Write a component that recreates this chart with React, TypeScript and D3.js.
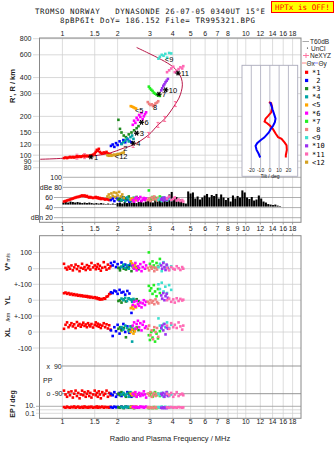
import React from 'react';
import * as d3 from 'd3';

// echo rows: [freq MHz, height km, amplitude dB, V* m/s, YL km, XL km, PP deg, EP deg]
type Echo = [number, number, number, number | null, number | null, number | null, number | null, number | null];

const trace1: Echo[] = [
  [1.02, 95, 52, 30, 44, 20, -70, 6], [1.04, 96, 53, 5, 48, 45, -95, 4], [1.06, 95, 54, -5, 40, 60, -110, 8],
  [1.08, 96, 55, 12, 45, 30, -80, 5], [1.10, 97, 56, 0, 36, 42, -100, 4], [1.12, 96, 57, 20, 41, 55, -75, 7],
  [1.14, 97, 58, -10, 33, 35, -115, 5], [1.16, 96, 59, 8, 38, 48, -90, 9], [1.18, 97, 60, 25, 31, 25, -70, 4],
  [1.20, 98, 61, -2, 35, 62, -105, 6], [1.22, 97, 61, 15, 28, 40, -85, 8], [1.24, 98, 62, -15, 32, 50, -120, 4],
  [1.26, 97, 63, 5, 26, 33, -95, 5], [1.28, 98, 64, 30, 30, 45, -70, 7], [1.30, 99, 63, 0, 24, 58, -100, 4],
  [1.32, 98, 64, 10, 27, 38, -80, 9], [1.34, 99, 62, -8, 22, 47, -110, 5], [1.36, 98, 63, 22, 26, 30, -90, 6],
  [1.38, 99, 61, 3, 19, 55, -75, 4], [1.40, 98, 60, 15, 23, 42, -105, 7], [1.42, 99, 61, -5, 17, 35, -85, 5],
  [1.44, 100, 60, 35, 21, 50, -115, 8], [1.47, 101, 59, 8, 15, 28, -95, 4], [1.50, 103, 60, 20, 19, 45, -70, 6],
  [1.52, 106, 61, -3, 12, 60, -100, 5], [1.54, 110, 59, 12, 16, 38, -85, 9], [1.56, 108, 60, 28, 8, 52, -110, 4],
  [1.58, 112, 58, 0, 12, 33, -75, 7], [1.60, 106, 59, 18, 4, 46, -95, 5], [1.62, 104, 57, -12, 8, 25, -120, 6],
  [1.65, 103, 58, 6, 5, 40, -80, 8], [1.68, 105, 57, 40, 12, 55, -100, 4], [1.71, 104, 56, 10, 9, 30, -90, 7],
  [1.74, 106, 57, -6, 22, 48, -70, 5], [1.77, 103, 56, 25, 25, 22, -110, 6], [1.80, 102, 55, 2, 38, 42, -85, 4],
  [1.83, 101, 56, 15, 42, 15, -100, 7],
];

const trace2: Echo[] = [
  [1.84, 118, 55, 35, 50, 10, -90, 6], [1.88, 121, 58, 20, 45, -25, -100, 4], [1.92, 116, 53, 42, 60, 30, -80, 8],
  [1.96, 124, 60, 10, 55, 5, -110, 5], [2.00, 120, 57, 28, 40, 45, -95, 7], [2.05, 128, 54, 5, 65, -10, -85, 5],
  [2.10, 123, 61, 38, 48, 20, -105, 8], [2.15, 131, 56, 15, 52, 50, -90, 4], [2.20, 126, 58, 25, 35, 0, -100, 6],
  [2.26, 133, 55, 8, 58, 35, -80, 7], [2.32, 129, 52, 20, 42, -5, -95, 5], [2.38, 126, 54, 30, -80, 15, -110, 8],
];

const trace3: Echo[] = [
  [2.02, 188, 56, 5, -5, 20, -90, 5], [2.06, 160, 58, -10, 0, 30, -100, 4], [2.10, 150, 54, 12, -15, 10, -80, 7],
  [2.16, 142, 60, 0, 5, 25, -95, 3], [2.22, 138, 57, -5, -8, -33, -110, 8], [2.30, 145, 62, 8, 10, 15, -85, 4],
  [2.38, 150, 55, -15, 2, 35, -100, 6], [2.46, 156, 59, 3, -3, 5, -90, 3], [2.54, 162, 61, 10, 6, 28, -105, 5],
  [2.60, 168, 58, -3, -6, 12, -95, 4],
];

const trace4: Echo[] = [
  [2.10, 122, 55, 10, 10, 30, -95, 6], [2.15, 126, 58, 25, 0, 15, -85, 4], [2.20, 130, 53, 5, 15, 40, -100, 8],
  [2.25, 135, 60, 20, -5, 25, -90, 5], [2.30, 128, 56, 0, 12, 5, -110, 7], [2.35, 138, 54, 30, 5, 35, -80, 4],
  [2.40, 142, 57, 15, -10, -60, -95, 6], [2.44, 134, 59, 8, 8, 20, -105, 5],
];

const trace5: Echo[] = [
  [2.36, 240, 56, 45, -50, 0, -90, 6], [2.40, 238, 58, 30, -40, 15, -100, 8], [2.44, 235, 54, 10, -55, -10, -85, 4],
  [2.48, 232, 57, 25, -35, 5, -95, 6], [2.52, 230, 55, 5, -45, 20, -105, 9],
];

const trace6: Echo[] = [
  [2.42, 172, 55, 20, -30, 40, -90, 6], [2.46, 185, 52, 0, -10, 60, -100, 8], [2.50, 178, 58, 35, -40, 20, -80, 4],
  [2.54, 195, 60, -10, -5, 50, -110, 7], [2.58, 188, 54, 15, -25, 70, -95, 5], [2.62, 205, 57, 5, -35, 30, -85, 4],
  [2.66, 198, 61, 28, -15, 55, -105, 9], [2.70, 212, 53, -15, -45, 10, -90, 6], [2.74, 190, 56, 10, -20, 45, -100, 7],
  [2.78, 200, 59, 40, 0, 65, -75, 4], [2.82, 208, 55, 0, -30, 25, -95, 6], [2.86, 215, 58, 20, -10, 35, -115, 8],
];

const trace7: Echo[] = [
  [2.96, 340, 74, 100, 90, -20, -90, 3], [3.00, 330, 58, 30, 60, -50, -100, 5], [3.05, 322, 56, 10, 75, 0, -85, 4],
  [3.10, 315, 61, 45, 40, -35, -110, 3], [3.15, 305, 57, 20, 95, 10, -95, 6], [3.20, 300, 60, 5, 55, -60, -80, 4],
  [3.26, 295, 55, 35, 25, -10, -100, 3], [3.32, 290, 59, 15, 70, -40, -90, 5], [3.40, 288, 62, 60, 45, 5, -105, 4],
];

const trace8: Echo[] = [
  [2.92, 258, 55, 5, -10, 20, -90, 4], [2.97, 250, 58, -10, -20, 40, -100, 6], [3.02, 245, 53, 15, 0, -20, -80, 3],
  [3.07, 248, 60, 0, -15, 10, -110, 5], [3.12, 240, 56, 10, -5, -45, -95, 4], [3.17, 244, 62, -15, -25, 30, -85, 3],
  [3.22, 252, 57, 5, 5, 0, -105, 6], [3.28, 256, 54, -5, -12, 25, -95, 4], [3.33, 262, 59, 12, -20, -30, -90, 5],
];

const trace9: Echo[] = [
  [3.34, 560, 55, 10, 100, 85, -90, 6], [3.40, 580, 58, 30, 70, 40, -100, 4], [3.48, 600, 53, -15, 110, 20, -85, 8],
  [3.56, 590, 60, 40, 55, 50, -110, 5], [3.64, 610, 56, 5, 85, 30, -95, 7], [3.72, 570, 54, 20, 45, 60, -80, 4],
  [3.82, 620, 57, -5, 95, 25, -105, 6], [3.92, 615, 55, 15, 65, 45, -95, 5],
];

const trace10: Echo[] = [
  [3.46, 318, 56, 20, 30, 25, -90, 4], [3.50, 330, 58, 0, 10, 40, -100, 3], [3.55, 345, 54, 35, 45, 10, -85, 5],
  [3.60, 355, 60, 10, 0, 50, -110, 3], [3.65, 368, 57, -8, 25, -15, -95, 4], [3.70, 378, 55, 25, 40, 30, -80, 3],
  [3.76, 390, 59, 5, 15, 20, -105, 5],
];

const trace11: Echo[] = [
  [3.72, 440, 58, 5, 0, 40, -90, 5], [3.82, 455, 62, -10, 10, 20, -100, 4], [3.92, 470, 55, 10, -10, 55, -85, 6],
  [4.02, 485, 57, 0, 5, 30, -110, 4], [4.10, 440, 60, -5, -15, 45, -95, 5], [4.20, 450, 54, 15, 12, 25, -80, 4],
  [4.30, 465, 56, 3, -5, 60, -105, 6], [4.40, 480, 53, -8, 8, 35, -95, 5], [4.50, 470, 55, 10, -2, 15, -90, 4],
  [4.56, 490, 52, 0, 3, 40, -100, 5],
];

const trace12: Echo[] = [
  [1.76, 100, 62, null, null, null, null, null], [1.79, 99, 66, null, null, null, null, null],
  [1.82, 100, 60, null, null, null, null, null], [1.85, 99, 68, null, null, null, null, null],
  [1.88, 100, 63, null, null, null, null, null], [1.91, 101, 70, null, null, null, null, null],
  [1.94, 100, 61, null, null, null, null, null], [1.97, 101, 69, null, null, null, null, null],
  [2.00, 102, 64, null, null, null, null, null], [2.04, 102, 71, null, null, null, null, null],
  [2.08, 103, 62, null, null, null, null, null], [2.12, 104, 66, null, null, null, null, null],
  [2.16, 105, 59, null, null, null, null, null],
];

const traces = [trace1, trace2, trace3, trace4, trace5, trace6, trace7, trace8, trace9, trace10, trace11, trace12];
const traceColors = ['#ff0000', '#0000ff', '#1f8b1f', '#00a4a4', '#ffa500', '#ff00ff', '#22ee22', '#f08080', '#40e0d0', '#9b30f0', '#ff69b4', '#d4a020'];
const traceSymbols = ['*', ' ', '*', '*', '<', '*', '*', ' ', '<', '*', '*', '<'];
const markFreq = [1.43, 2.2, 2.54, 2.43, 2.55, 2.70, 3.36, 3.2, 3.71, 3.66, 4.27, 1.98];
const markHeight = [97, 114, 148, 124, 224, 180, 297, 236, 555, 321, 433, 98];

// NeXYZ profile: [plasma freq MHz, real height km, error bar flag]
const profile: [number, number, number][] = [
  [0.757, 93, 0], [1.01, 94.7, 0], [1.2, 97.4, 1], [1.32, 98.3, 1], [1.51, 99.2, 0], [1.82, 104, 0],
  [2.14, 113, 0], [2.43, 120, 1], [2.95, 143.6, 1], [3.32, 171.7, 1], [3.61, 191, 1], [3.9, 220, 0],
  [4.13, 249, 1], [4.32, 277, 0], [4.45, 312, 0], [4.51, 351, 0], [4.45, 396, 0], [4.27, 441, 0],
  [3.98, 488, 0], [3.47, 550, 0], [2.93, 620, 0], [2.54, 684, 0],
];

// tilt vs height: [deg, km]
const thetaX: [number, number][] = [
  [-1, 258], [1.4, 253], [2.5, 234], [1.4, 215], [-1.8, 202], [-4.6, 192], [-5.7, 182], [-2.9, 177], [0.3, 169],
  [3.2, 160], [6.5, 146], [8.9, 138], [12.6, 134], [16, 125], [18, 119], [18.3, 110], [17.2, 100], [17.2, 96],
];
const thetaY: [number, number][] = [
  [0.3, 258], [1.8, 241], [2.9, 226], [4.6, 208], [6.1, 192], [5.4, 180], [3.5, 169], [1.1, 160], [-1.1, 150],
  [-6.1, 137], [-9.7, 131], [-13.7, 124], [-15.4, 118], [-14.3, 110], [-12.2, 103], [-10.4, 96],
];

// noise level (dB) per sweep step, starting at 1 MHz
const noiseStartMHz = 1.0;
const noiseStepRatio = 1.03;
const noiseTop = [
  50, 51, 50, 52, 51, 50, 51, 50, 49, 50, 49, 50, 49, 48, 49, 48, 49, 48, 47, 48, 47, 48, 47,
  49, 50, 48, 51, 49, 52, 50, 53, 49, 51, 54, 50, 52,
  55, 58, 50, 60, 53, 57, 62, 55, 59, 66, 71, 58, 61, 52, 56, 49,
  48, 72, 68, 70, 58, 62, 56, 60, 64, 67, 60, 65, 63, 67, 58, 66,
  60, 55, 59, 52, 64, 58, 63, 60, 74, 70, 60, 57, 61, 54, 56, 64, 58, 52, 50,
  47, 46, 45, 46, 44, 43,
];

const freqTicks = [1, 1.5, 2, 3, 4, 5, 6, 7, 8, 10, 12, 14, 16, 18];
const midFreqTicks = [1, 1.5, 2, 3, 4, 5, 6, 7, 8, 9, 10, 12, 14, 16, 18];
const gridFreqs = [1, 1.5, 2, 3, 4, 5, 6, 7, 8, 9, 10, 12, 14, 16, 18];
const heightTicks = [800, 600, 400, 300, 200, 150, 120, 100, 90, 80];
const tiltTicks = [-20, -10, 0, 10, 20];

const L = 39.5;
const R = 301;
const SANS = '"Liberation Sans", Arial, sans-serif';
const MONO = '"DejaVu Sans Mono", monospace';

export default function App() {
  const x = d3.scaleLog().domain([0.75, 20]).range([L, R]);
  const yH = d3.scaleLog().domain([80, 800]).range([167.7, 38.7]);
  const yDb = d3.scaleLinear().domain([20, 100]).range([217.7, 177.3]);
  const yV = d3.scaleLinear().domain([0, 100]).range([268.7, 252.4]);
  const yYL = d3.scaleLinear().domain([0, 100]).range([300.2, 284.3]);
  const yXL = d3.scaleLinear().domain([0, 100]).range([332, 316]);
  const yPP = d3.scaleLinear().domain([-90, 90]).range([393.7, 366]);
  const yEP = d3.scaleLog().domain([0.1, 10]).range([413.3, 406.3]);
  const xTilt = d3.scaleLinear().domain([-30, 30]).range([242, 297.7]);

  const profileLine = d3.line<[number, number, number]>()
    .x(d => x(d[0])).y(d => yH(d[1])).curve(d3.curveCatmullRom);
  const tiltLine = d3.line<[number, number]>().x(d => xTilt(d[0])).y(d => yH(d[1]));

  const sq = 2.6;
  const marks: React.ReactNode[] = [];
  traces.forEach((t, ti) => {
    const c = traceColors[ti];
    t.forEach((e, ei) => {
      const cx = x(e[0]);
      const put = (cy: number, k: string) =>
        marks.push(<rect key={`${ti}-${ei}-${k}`} x={cx - sq / 2} y={cy - sq / 2} width={sq} height={sq} fill={c} />);
      put(yH(e[1]), 'h');
      put(yDb(e[2]), 'db');
      if (e[3] !== null) put(yV(e[3]), 'v');
      if (e[4] !== null) put(yYL(e[4]), 'yl');
      if (e[5] !== null) put(yXL(e[5]), 'xl');
      if (e[6] !== null) put(yPP(e[6]), 'pp');
      if (e[7] !== null) put(yEP(e[7]), 'ep');
    });
  });

  const noise = noiseTop.map((top, i) => {
    const f = noiseStartMHz * Math.pow(noiseStepRatio, i);
    const x0 = x(f);
    const w = x(f * noiseStepRatio) - x0 - 0.3;
    const floor = f < 1.95 ? 46 : 42;
    return <rect key={`n${i}`} x={x0} y={yDb(top)} width={w} height={yDb(floor) - yDb(top)} fill="#000" />;
  });

  const star = (cx: number, cy: number, k: string) => (
    <g key={k} stroke="#000" strokeWidth={1.2}>
      <line x1={cx - 2.6} y1={cy} x2={cx + 2.6} y2={cy} />
      <line x1={cx - 1.4} y1={cy - 2.3} x2={cx + 1.4} y2={cy + 2.3} />
      <line x1={cx - 1.4} y1={cy + 2.3} x2={cx + 1.4} y2={cy - 2.3} />
    </g>
  );

  const labelFont = { fontFamily: SANS, fontSize: 7, fill: '#222' };
  const bottomRows: [number, string][] = [
    [yV(100), '100'], [yV(0), '0'], [yYL(100), '+-100'], [yYL(0), '0'],
    [yXL(100), '+-100'], [yXL(0), '0'], [yXL(-100), '-100'],
  ];

  return (
    <svg width={335} height={451} style={{ position: 'absolute', left: 0, top: 0, background: '#fff' }}>
      <defs>
        <clipPath id="topClip"><rect x={L} y={38} width={R - L} height={134} /></clipPath>
      </defs>

      {/* header */}
      <text x={35} y={14.2} fontFamily={MONO} fontSize={7.4} fill="#111" textLength={230} lengthAdjust="spacing" xmlSpace="preserve">TROMSO NORWAY   DYNASONDE 26-07-05 0340UT 15°E</text>
      <text x={60} y={22.8} fontFamily={MONO} fontSize={7.4} fill="#111" textLength={195} lengthAdjust="spacing">8pBP6It DoY= 186.152 File= TR995321.BPG</text>
      <rect x={271.5} y={1.5} width={62} height={11} fill="#ffff00" stroke="#ff0000" strokeWidth={1} />
      <text x={302.5} y={10} textAnchor="middle" fontFamily={MONO} fontSize={7.6} fill="#ff0000">HPTx is OFF!</text>

      {/* vertical grid */}
      {gridFreqs.map(f => (
        <g key={`g${f}`} stroke="#d4d4d4" strokeWidth={0.8}>
          <line x1={x(f)} x2={x(f)} y1={38} y2={222.3} />
          <line x1={x(f)} x2={x(f)} y1={235.7} y2={418.3} />
        </g>
      ))}

      {/* height axis */}
      {heightTicks.map(h => (
        <g key={`h${h}`}>
          <line x1={33} x2={R} y1={yH(h)} y2={yH(h)} stroke="#cfcfcf" strokeWidth={0.8} />
          <text x={31.5} y={yH(h) + 2.5} textAnchor="end" {...labelFont}>{h}</text>
        </g>
      ))}
      <text transform="translate(15,86) rotate(-90)" textAnchor="middle" fontFamily={SANS} fontSize={7.5} fontWeight="bold" fill="#222">R', R / km</text>

      {/* dB panel axis */}
      {[[100, '100', 62], [80, 'dBe 80', 62], [60, '60', 53], [40, '40', 53], [20, 'dBn 20', 53]].map(([v, s, ax]) => (
        <g key={`db${v}`}>
          <line x1={(ax as number) + 1} x2={R} y1={yDb(v as number)} y2={yDb(v as number)} stroke="#9a9a9a" strokeWidth={0.8} />
          <text x={ax as number} y={yDb(v as number) + 2.5} textAnchor="end" {...labelFont}>{s}</text>
        </g>
      ))}

      {/* bottom panel axes */}
      {bottomRows.map(([yy, s], i) => (
        <g key={`b${i}`}>
          <line x1={33} x2={R} y1={yy} y2={yy} stroke="#d0d0d0" strokeWidth={0.8} />
          <text x={32} y={yy + 2.5} textAnchor="end" {...labelFont}>{s}</text>
        </g>
      ))}
      <line x1={62} x2={R} y1={yPP(90)} y2={yPP(90)} stroke="#8a8a8a" strokeWidth={0.9} />
      <line x1={62} x2={R} y1={yPP(-90)} y2={yPP(-90)} stroke="#8a8a8a" strokeWidth={0.9} />
      <text x={46.5} y={yPP(90) + 2.5} {...labelFont} xmlSpace="preserve">x  90</text>
      <text x={43} y={382.5} {...labelFont}>PP</text>
      <text x={46.5} y={yPP(-90) + 2.5} {...labelFont}>o -90</text>
      {[10, 1, 0.1].map(v => (
        <line key={`ep${v}`} x1={36} x2={R} y1={yEP(v)} y2={yEP(v)} stroke={v === 10 ? '#9a9a9a' : '#d0d0d0'} strokeWidth={0.8} />
      ))}
      <text x={35} y={yEP(10) + 2} textAnchor="end" {...labelFont}>10.</text>
      <text x={35} y={yEP(0.1) + 3} textAnchor="end" {...labelFont}>0.1</text>

      <text transform="translate(10,262) rotate(-90)" textAnchor="middle" fontFamily={SANS} fill="#222" fontWeight="bold">
        <tspan fontSize={7.5}>V*</tspan><tspan fontSize={5} fontWeight="normal"> m/s</tspan>
      </text>
      <text transform="translate(10,300.5) rotate(-90)" textAnchor="middle" fontFamily={SANS} fontSize={7.5} fontWeight="bold" fill="#222">YL</text>
      <text transform="translate(10,317) rotate(-90)" textAnchor="middle" fontFamily={SANS} fontSize={5.5} fill="#222">/km</text>
      <text transform="translate(10,332.5) rotate(-90)" textAnchor="middle" fontFamily={SANS} fontSize={7.5} fontWeight="bold" fill="#222">XL</text>
      <text transform="translate(15,404) rotate(-90)" textAnchor="middle" fontFamily={SANS} fontSize={7} fontWeight="bold" fill="#222">EP / deg</text>

      {/* frequency tick labels */}
      {freqTicks.map(f => (
        <text key={`t${f}`} x={x(f)} y={35.5} textAnchor="middle" {...labelFont}>{f}</text>
      ))}
      {midFreqTicks.map(f => (
        <g key={`m${f}`}>
          <line x1={x(f)} x2={x(f)} y1={222.3} y2={224.5} stroke="#888" strokeWidth={0.8} />
          <line x1={x(f)} x2={x(f)} y1={233.5} y2={235.7} stroke="#888" strokeWidth={0.8} />
          <text x={x(f)} y={231} textAnchor="middle" {...labelFont}>{f}</text>
        </g>
      ))}
      {freqTicks.map(f => (
        <text key={`bt${f}`} x={x(f)} y={423.5} textAnchor="middle" {...labelFont}>{f}</text>
      ))}
      <text x={170} y={441} textAnchor="middle" fontFamily={SANS} fontSize={7.5} fill="#222">Radio and Plasma Frequency / MHz</text>

      {/* noise */}
      {noise}

      {/* profile */}
      <g clipPath="url(#topClip)">
        <path d={profileLine(profile) ?? ''} fill="none" stroke="#b81848" strokeWidth={1} />
        {profile.filter(p => p[2] === 1).map((p, i) => {
          const px = x(p[0]);
          const py = yH(p[1]);
          return (
            <g key={`eb${i}`} stroke="#ff6a9a" strokeWidth={0.9}>
              <line x1={px} x2={px} y1={py - 2.5} y2={py + 2.5} />
              <line x1={px - 1.5} x2={px + 1.5} y1={py - 2.5} y2={py - 2.5} />
              <line x1={px - 1.5} x2={px + 1.5} y1={py + 2.5} y2={py + 2.5} />
            </g>
          );
        })}
      </g>

      {/* echoes */}
      {marks}

      {/* trace markers */}
      {traceSymbols.map((s, i) => {
        const mx = x(markFreq[i]);
        const my = yH(markHeight[i]);
        const num = String(i + 1);
        if (s === '*') {
          return (
            <g key={`mk${i}`}>
              {star(mx, my, `s${i}`)}
              <text x={mx + 3} y={my + 3} fontFamily={SANS} fontSize={7.5} fill="#000">{num}</text>
            </g>
          );
        }
        return (
          <text key={`mk${i}`} x={mx - 2} y={my + 3} fontFamily={SANS} fontSize={7.5} fill="#000">
            {s === '<' ? '<' + num : num}
          </text>
        );
      })}

      {/* tilt inset */}
      <rect x={242} y={65.3} width={55.7} height={111} fill="#fff" stroke="#aab" strokeWidth={0.9} />
      {tiltTicks.map(t => (
        <g key={`tt${t}`}>
          <line x1={xTilt(t)} x2={xTilt(t)} y1={65.3} y2={168} stroke="#aab" strokeWidth={0.8} />
          <text x={xTilt(t)} y={172} textAnchor="middle" fontFamily={SANS} fontSize={5} fill="#222">{t}</text>
        </g>
      ))}
      <text x={270} y={177.5} textAnchor="middle" fontFamily={SANS} fontSize={5} fill="#222">Tilt / deg</text>
      <path d={tiltLine(thetaX) ?? ''} fill="none" stroke="#ff0000" strokeWidth={2} />
      <path d={tiltLine(thetaY) ?? ''} fill="none" stroke="#0000ff" strokeWidth={2} />

      {/* frames */}
      <rect x={L} y={38} width={R - L} height={222.3 - 38} fill="none" stroke="#888" strokeWidth={1} />
      <rect x={L} y={235.7} width={R - L} height={418.3 - 235.7} fill="none" stroke="#888" strokeWidth={1} />

      {/* legend */}
      <line x1={302.5} x2={309} y1={41.5} y2={41.5} stroke="#aaa" strokeWidth={1} />
      <text x={310} y={44} fontFamily={SANS} fontSize={6.5} fill="#222">T60dB</text>
      <circle cx={307.5} cy={48} r={0.6} fill="#000" />
      <text x={311} y={50.5} fontFamily={SANS} fontSize={6.5} fill="#222">UnCl</text>
      <g stroke="#ff6a9a" strokeWidth={0.9}>
        <line x1={303} x2={309} y1={55.5} y2={55.5} />
        <line x1={306} x2={306} y1={53} y2={58} />
      </g>
      <text x={310} y={58} fontFamily={SANS} fontSize={6.5} fill="#222">NeXYZ</text>
      <line x1={302} x2={306} y1={63} y2={63} stroke="#ff8888" strokeWidth={1} />
      <text x={306.5} y={65.5} fontFamily={SANS} fontSize={6.5} fill="#222">Θx</text>
      <line x1={314} x2={318} y1={63} y2={63} stroke="#8888ff" strokeWidth={1} />
      <text x={318.5} y={65.5} fontFamily={SANS} fontSize={6.5} fill="#222">Θy</text>
      {traceColors.map((c, i) => {
        const ly = 72.3 + 8.17 * i;
        return (
          <g key={`lg${i}`}>
            <rect x={305} y={ly - 1.6} width={3.2} height={3.2} fill={c} />
            <text x={312} y={ly + 2.5} fontFamily={MONO} fontSize={7} fill="#000" xmlSpace="preserve">{traceSymbols[i] + (i + 1)}</text>
          </g>
        );
      })}
    </svg>
  );
}
